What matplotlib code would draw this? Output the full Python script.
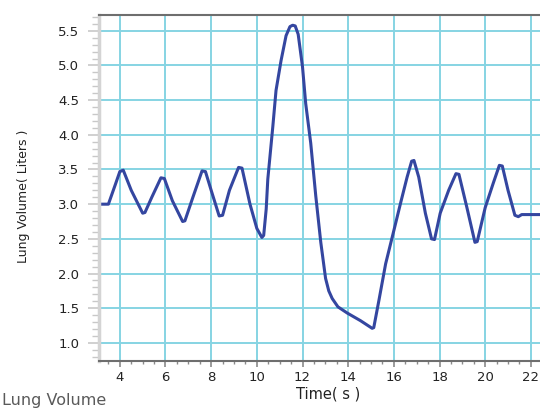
import numpy as np
import matplotlib.pyplot as plt
from matplotlib.ticker import MultipleLocator

# 肺容量曲线
time_s = [3.1, 3.5, 3.8, 4.0, 4.15, 4.5, 5.0, 5.1, 5.4, 5.8, 5.95, 6.3, 6.75, 6.85,
          7.2, 7.6, 7.75, 8.0, 8.35, 8.5, 8.8, 9.2, 9.35, 9.7, 10.0, 10.22, 10.3,
          10.41, 10.48, 10.7, 10.84, 11.06, 11.28, 11.45, 11.57, 11.68, 11.81, 12.0,
          12.14, 12.36, 12.58, 12.8, 13.01, 13.15, 13.3, 13.55, 13.96, 14.54, 15.05,
          15.12, 15.35, 15.64, 16.0, 16.29, 16.58, 16.78, 16.88, 17.09, 17.38, 17.65,
          17.78, 18.03, 18.4, 18.72, 18.85, 19.2, 19.55, 19.65, 20.0, 20.35, 20.62,
          20.75, 21.0, 21.3, 21.45, 21.6, 22.4]
volume_l = [3.0, 3.0, 3.28, 3.47, 3.49, 3.2, 2.87, 2.88, 3.1, 3.38, 3.37, 3.05, 2.75,
            2.76, 3.1, 3.48, 3.47, 3.2, 2.83, 2.84, 3.2, 3.53, 3.52, 3.0, 2.65, 2.52,
            2.55, 2.93, 3.36, 4.12, 4.64, 5.07, 5.43, 5.56, 5.58, 5.57, 5.45, 4.98,
            4.45, 3.88, 3.12, 2.45, 1.93, 1.75, 1.64, 1.52, 1.43, 1.32, 1.21,
            1.22, 1.62, 2.14, 2.62, 3.01, 3.39, 3.62, 3.63, 3.39, 2.87, 2.5,
            2.49, 2.87, 3.2, 3.44, 3.43, 2.95, 2.45, 2.46, 2.95, 3.3, 3.56,
            3.55, 3.2, 2.84, 2.82, 2.85, 2.85]

x_ticks = [4, 6, 8, 10, 12, 14, 16, 18, 20, 22]
y_ticks = [1.0, 1.5, 2.0, 2.5, 3.0, 3.5, 4.0, 4.5, 5.0, 5.5]

plt.rcParams['font.family'] = ['DejaVu Sans']

fig = plt.figure(figsize=(5.4, 4.12), dpi=100)
ax = fig.add_axes([0.183, 0.124, 0.817, 0.840])

ax.plot(time_s, volume_l, color='#3446a0', linewidth=2.2, solid_joinstyle='round')

ax.set_xlim(3.08, 22.4)
ax.set_ylim(0.74, 5.73)
ax.set_xticks(x_ticks)
ax.set_yticks(y_ticks)
ax.set_yticklabels(['%.1f' % v for v in y_ticks])
ax.xaxis.set_minor_locator(MultipleLocator(0.5))
ax.yaxis.set_minor_locator(MultipleLocator(0.1))

# 网格线
ax.grid(True, which='major', color='#86d4e3', linewidth=1.4)
ax.set_axisbelow(True)

# 坐标轴样式
ax.spines['left'].set_color('#d4d4d4')
ax.spines['left'].set_linewidth(2.5)
ax.spines['bottom'].set_color('#6e6e6e')
ax.spines['bottom'].set_linewidth(1.5)
ax.spines['top'].set_color('#6e6e6e')
ax.spines['top'].set_linewidth(1.5)
ax.spines['right'].set_visible(False)

ax.tick_params(axis='y', which='major', length=8, color='#c8c8c8', width=1.2,
               labelsize=9.5, labelcolor='#222222', pad=6)
ax.tick_params(axis='y', which='minor', length=5, color='#c8c8c8', width=1.0)
ax.tick_params(axis='x', which='major', length=4, color='#8a8a8a', width=1.2,
               labelsize=9.5, labelcolor='#222222', pad=3)
ax.tick_params(axis='x', which='minor', length=2, color='#8a8a8a', width=1.0)

ax.set_xlabel('Time( s )', fontsize=10.5, color='#222222')
ax.xaxis.set_label_coords(0.52, -0.073)
ax.set_ylabel('Lung Volume( Liters )', fontsize=9, color='#222222')
ax.yaxis.set_label_coords(-0.155, 0.477)

fig.text(0.004, 0.018, 'Lung Volume', fontsize=11.5, color='#5a5a5a')

fig.savefig('out.png', dpi=100)
